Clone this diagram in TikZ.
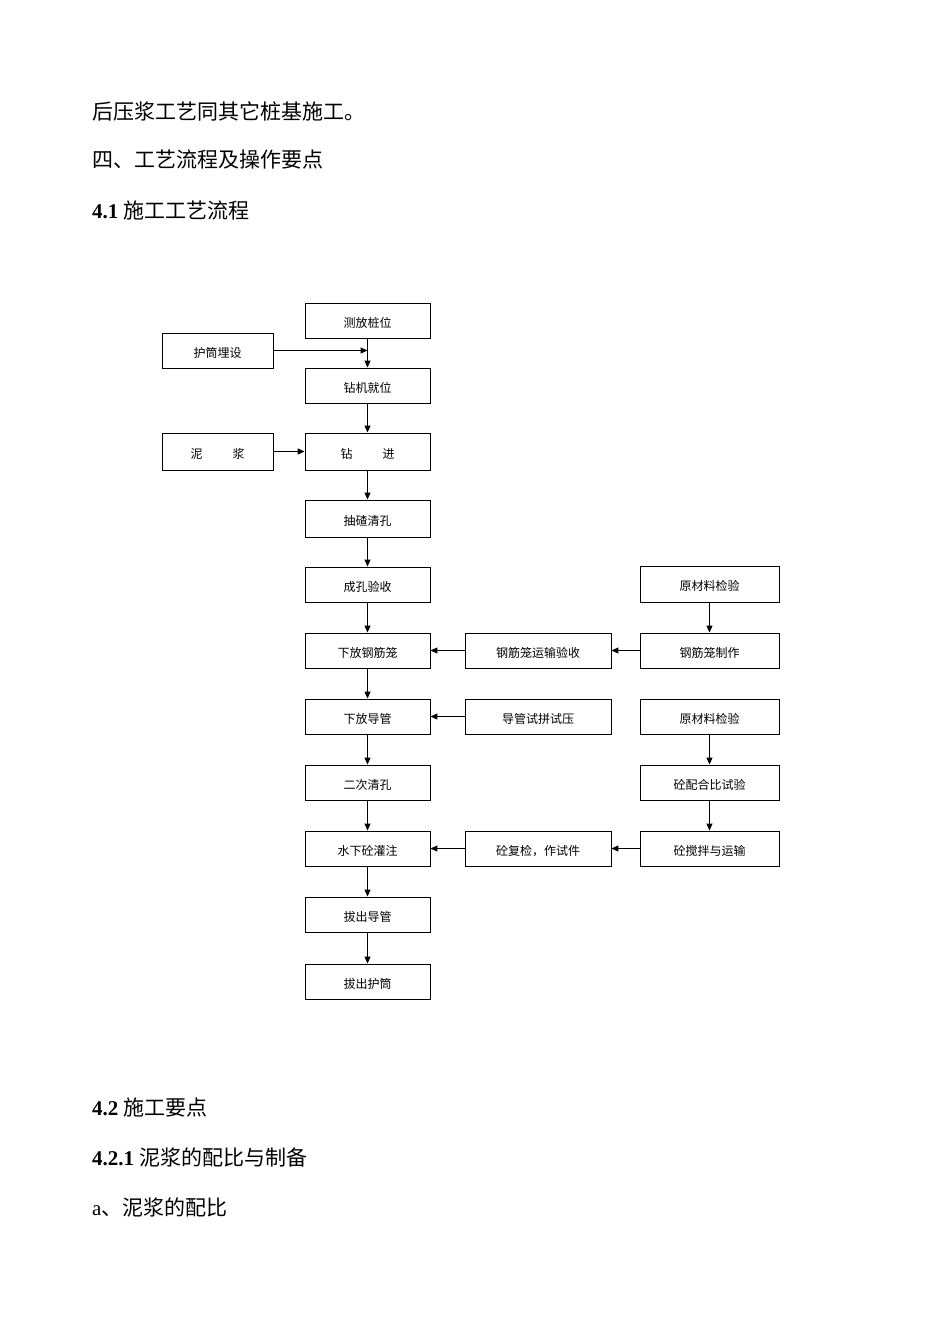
\documentclass[tikz,border=0pt]{standalone}
\usepackage{fontspec}
\setmainfont{Liberation Serif}
\newfontfamily\cjk{Noto Sans CJK SC}
\usetikzlibrary{arrows.meta}
\tikzset{bx/.style={draw,line width=0.9pt,inner sep=0pt,font=\cjk\fontsize{12}{12}\selectfont,text depth=0pt},
ar/.style={-{Triangle[length=7pt,width=6pt]},line width=1pt},
hd/.style={anchor=west,inner sep=0pt,font=\fontsize{21}{21}\selectfont}}
\newcommand{\bxat}[6]{\node[bx,minimum width=#3-#2 pt,minimum height=#5-#4 pt] (#1) at ({(#2+#3)/2pt},{-(#4+#5)/2pt}) {\raisebox{-3pt}{#6}};}
\begin{document}
\begin{tikzpicture}[x=1pt,y=1pt]
\useasboundingbox (0,0) rectangle (950,-1344);
\node[hd] (t1) at (92,-111) {\cjk 后压浆工艺同其它桩基施工。};
\node[hd] (t2) at (92,-160) {\cjk 四、工艺流程及操作要点};
\node[hd] (t3) at (92,-211) {\textbf{4.1} \cjk 施工工艺流程};
\node[hd] (t4) at (92,-1107) {\textbf{4.2} \cjk 施工要点};
\node[hd] (t5) at (92,-1157) {\textbf{4.2.1} \cjk 泥浆的配比与制备};
\node[hd] (t6) at (92,-1207) {a\cjk 、泥浆的配比};
\bxat{m1}{305}{430}{303}{338}{测放桩位}
\bxat{m2}{305}{430}{368}{403}{钻机就位}
\bxat{m3}{305}{430}{433}{470}{钻\hspace{2.5em}进}
\bxat{m4}{305}{430}{500}{537}{抽碴清孔}
\bxat{m5}{305}{430}{567}{602}{成孔验收}
\bxat{m6}{305}{430}{633}{668}{下放钢筋笼}
\bxat{m7}{305}{430}{699}{734}{下放导管}
\bxat{m8}{305}{430}{765}{800}{二次清孔}
\bxat{m9}{305}{430}{831}{866}{水下砼灌注}
\bxat{m10}{305}{430}{897}{932}{拔出导管}
\bxat{m11}{305}{430}{964}{999}{拔出护筒}
\bxat{l1}{162}{273}{333}{368}{护筒埋设}
\bxat{l2}{162}{273}{433}{470}{泥\hspace{2.5em}浆}
\bxat{c1}{465}{611}{633}{668}{钢筋笼运输验收}
\bxat{c2}{465}{611}{699}{734}{导管试拼试压}
\bxat{c3}{465}{611}{831}{866}{砼复检，作试件}
\bxat{r1}{640}{779}{566}{602}{原材料检验}
\bxat{r2}{640}{779}{633}{668}{钢筋笼制作}
\bxat{r3}{640}{779}{699}{734}{原材料检验}
\bxat{r4}{640}{779}{765}{800}{砼配合比试验}
\bxat{r5}{640}{779}{831}{866}{砼搅拌与运输}
\foreach \a/\b in {m1/m2,m2/m3,m3/m4,m4/m5,m5/m6,m6/m7,m7/m8,m8/m9,m9/m10,m10/m11,r1/r2,r3/r4,r4/r5}
  \draw[ar] (\a) -- (\b);
\foreach \a/\b in {l2/m3,c1/m6,r2/c1,c2/m7,c3/m9,r5/c3}
  \draw[ar] (\a) -- (\b);
\coordinate (j) at (m1.south |- l1.east);
\draw[ar] (l1.east) -- (j);
\end{tikzpicture}
\end{document}
